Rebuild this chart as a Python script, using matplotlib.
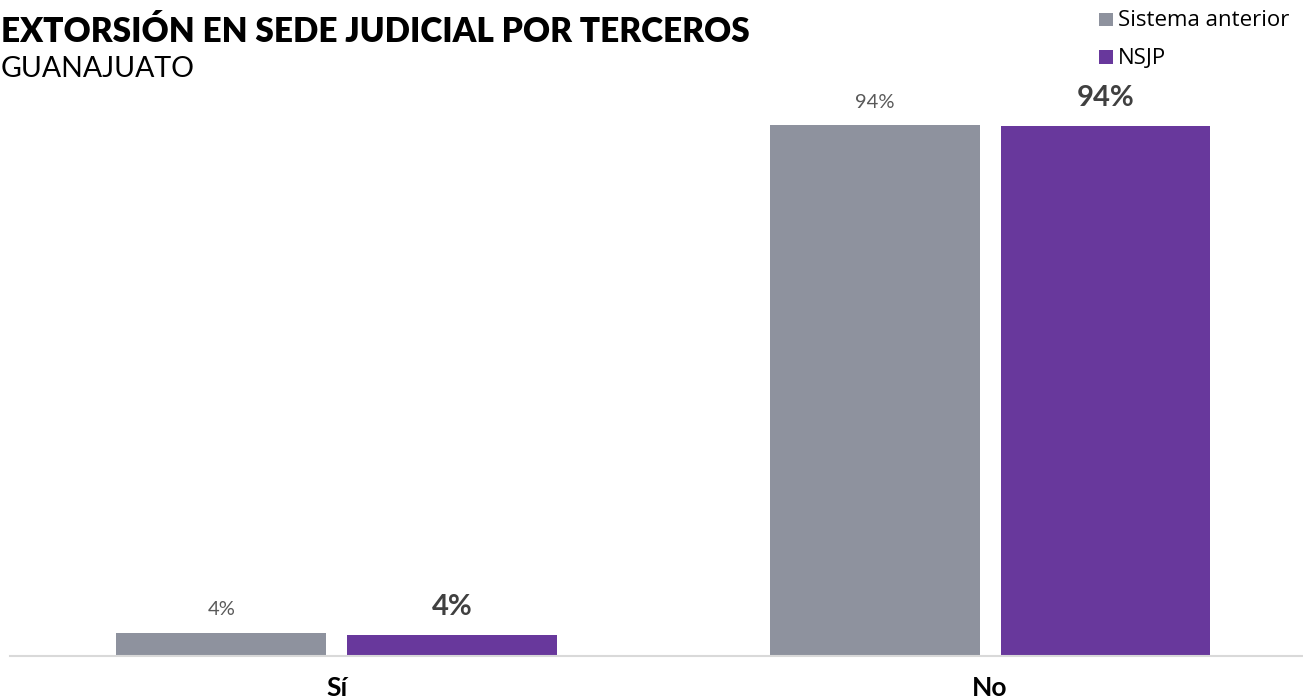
import matplotlib
matplotlib.use("Agg")
import matplotlib.pyplot as plt
from matplotlib.patches import Rectangle
import numpy as np

# Data
categories = ["Sí", "No"]
series_names = ["Sistema anterior", "NSJP"]
sistema_anterior = [4.1, 94.1]
nsjp = [3.7, 94.0]

GREY = "#8E929E"
PURPLE = "#68389C"

W, H, DPI = 1303, 700, 100
fig = plt.figure(figsize=(W / DPI, H / DPI), dpi=DPI)
fig.patch.set_facecolor("white")

# axes placed in pixel terms
left_px, right_px, base_px, top_px = 10, 1303, 656, 92.2
ax = fig.add_axes([left_px / W, (H - base_px) / H,
                   (right_px - left_px) / W, (base_px - top_px) / H])

x = np.arange(len(categories))
bw = 0.3213
off = 0.1767
b1 = ax.bar(x - off, sistema_anterior, bw, color=GREY, zorder=2)
b2 = ax.bar(x + off, nsjp, bw, color=PURPLE, zorder=2)

ax.set_xlim(-0.5, 1.479)
ax.set_ylim(0, 100)
for s in ["top", "right", "left"]:
    ax.spines[s].set_visible(False)
ax.spines["bottom"].set_color("#D9D9D9")
ax.spines["bottom"].set_linewidth(1.5)
ax.set_yticks([])
ax.set_xticks([])

# value labels
for rect, v in zip(b1, sistema_anterior):
    ax.annotate(f"{v:.0f}%", (rect.get_x() + rect.get_width() / 2, v),
                xytext=(0, 23), textcoords="offset pixels",
                ha="center", va="center", fontsize=14.5, color="#595959",
                family="Lato")
for rect, v in zip(b2, nsjp):
    ax.annotate(f"{v:.0f}%", (rect.get_x() + rect.get_width() / 2, v),
                xytext=(0, 28), textcoords="offset pixels",
                ha="center", va="center", fontsize=21, color="#404040",
                family="Lato", fontweight="bold")

# category labels
for xi, c in zip(x, categories):
    ax.annotate(c, (xi, 0), xytext=(0, -20), textcoords="offset pixels",
                ha="center", va="top", fontsize=19, fontweight="bold",
                color="black", family="Lato", annotation_clip=False)

# titles
fig.text(1 / W, 1 - 42 / H, "EXTORSIÓN EN SEDE JUDICIAL POR TERCEROS",
         fontsize=24, fontweight="heavy", family="Lato", color="black",
         ha="left", va="baseline")
fig.text(1 / W, 1 - 77 / H, "GUANAJUATO", fontsize=20.5, family="Lato",
         color="black", ha="left", va="baseline")

# legend drawn as squares with text
leg_rows = [(12.5, 26.5), (50, 64.5)]  # (square top px, text baseline px)
for (sq_top, base), name, col in zip(leg_rows, series_names, [GREY, PURPLE]):
    fig.patches.append(Rectangle((1099 / W, 1 - (sq_top + 13.5) / H),
                                 14 / W, 13.5 / H, transform=fig.transFigure,
                                 facecolor=col, edgecolor="none"))
    fig.text(1118 / W, 1 - base / H, name, fontsize=16, family="Open Sans",
             color="black", ha="left", va="baseline")

fig.savefig("out.png", dpi=DPI, facecolor="white")
